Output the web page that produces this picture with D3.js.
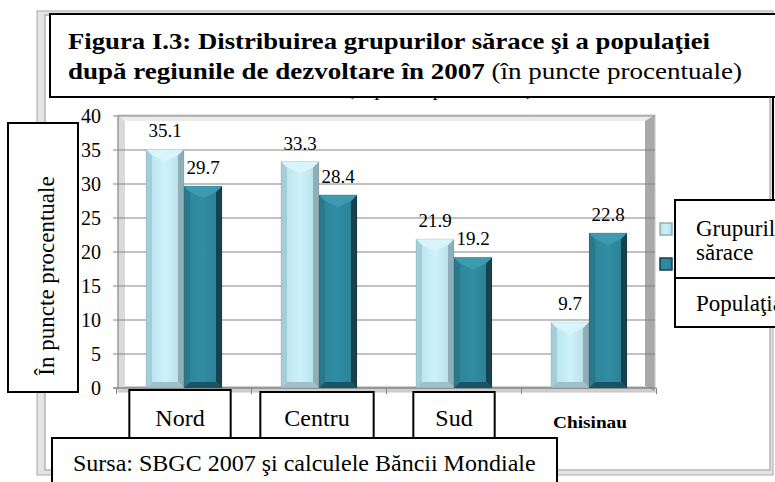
<!DOCTYPE html>
<html>
<head>
<meta charset="utf-8">
<script src="https://cdn.jsdelivr.net/npm/d3@7"></script>
<style>
  body { margin: 0; background: #fff; }
  svg { display: block; }
</style>
</head>
<body>
<div id="chart"></div>
<script>
const regions = ["Nord", "Centru", "Sud", "Chisinau"];
const series = ["Grupurile sărace", "Populaţia"];
const saraci = [35.1, 33.3, 21.9, 9.7];
const populatie = [29.7, 28.4, 19.2, 22.8];
const yTicks = [0, 5, 10, 15, 20, 25, 30, 35, 40];

const width = 775, height = 482;
const serif = "Liberation Serif";

const svg = d3.select("#chart")
  .append("svg")
  .attr("width", width)
  .attr("height", height)
  .attr("font-family", serif);

const defs = svg.append("defs");

// outer chart frame
svg.append("rect").attr("x", 37).attr("y", 11).attr("width", 736).attr("height", 464)
  .attr("fill", "#e4e4e4").attr("stroke", "#a8a8a8");
svg.append("rect").attr("x", 45).attr("y", 15).attr("width", 725).attr("height", 455)
  .attr("fill", "#fff").attr("stroke", "#b4b4b4").attr("stroke-width", 1.5);

const y = d3.scaleLinear().domain([0, 40]).range([388, 116]);
const x0 = d3.scaleBand().domain(regions).range([116.5, 656.5]);
const x1 = d3.scaleBand().domain(series).range([0, 76]);

// plot walls (3d frame)
const px0 = 118, px1 = 655, py0 = 115, py1 = 392;
const wallG = svg.append("g");
wallG.append("polygon")
  .attr("points", [[px0, py0], [px1, py0], [645, 121], [125, 121]].join(" "))
  .attr("fill", "#ececec");
wallG.append("polygon")
  .attr("points", [[px0, py0], [125, 121], [125, 386], [px0, py1]].join(" "))
  .attr("fill", "#dadada");
wallG.append("polygon")
  .attr("points", [[px1, py0], [645, 121], [645, 386], [px1, py1]].join(" "))
  .attr("fill", "#a9a9a9");
wallG.append("polygon")
  .attr("points", [[px0, py1], [px1, py1], [645, 386], [125, 386]].join(" "))
  .attr("fill", "#cfcfcf");
wallG.append("rect").attr("x", px0).attr("y", py0).attr("width", px1 - px0).attr("height", py1 - py0)
  .attr("fill", "none").attr("stroke", "#c4c4c4");

// gridlines + y axis
svg.append("g")
  .selectAll("line")
  .data(yTicks)
  .join("line")
  .attr("x1", 113).attr("x2", px1)
  .attr("y1", d => y(d)).attr("y2", d => y(d))
  .attr("stroke", "#858585").attr("stroke-width", 1);

svg.append("line").attr("x1", px0).attr("x2", px0).attr("y1", y(40)).attr("y2", y(0))
  .attr("stroke", "#858585");

svg.append("g")
  .selectAll("text")
  .data(yTicks)
  .join("text")
  .attr("x", 101)
  .attr("y", d => y(d) + 7)
  .attr("text-anchor", "end")
  .attr("font-family", serif)
  .attr("font-size", 20)
  .text(d => d);

// x axis line and ticks
svg.append("line").attr("x1", 113).attr("x2", x0.range()[1])
  .attr("y1", y(0)).attr("y2", y(0)).attr("stroke", "#858585");
svg.append("g")
  .selectAll("line")
  .data(regions.map(r => x0(r)).concat([x0.range()[1]]))
  .join("line")
  .attr("x1", d => d).attr("x2", d => d)
  .attr("y1", y(0)).attr("y2", y(0) + 6)
  .attr("stroke", "#858585");

// bar colour sets
const barStyles = {
  "Grupurile sărace": { grad: ["#b6e0eb", "#cdf2fa", "#b3dae5"], left: "#a3cdd9", right: "#8eaeb8", top: "#d9f5fb", bottom: "#9fbfc9" },
  "Populaţia": { grad: ["#2c8499", "#308da3", "#2a7d91"], left: "#2a788c", right: "#17414d", top: "#3d9bb0", bottom: "#1b5565" }
};

series.forEach((s, i) => {
  const g = defs.append("linearGradient").attr("id", "g" + i).attr("x1", "0").attr("x2", "1");
  barStyles[s].grad.forEach((c, j) => g.append("stop").attr("offset", j / 2).attr("stop-color", c));
});

const bars = [];
regions.forEach((r, i) => {
  bars.push({ region: r, series: series[0], value: saraci[i], idx: 0 });
  bars.push({ region: r, series: series[1], value: populatie[i], idx: 1 });
});

const b = 6;
svg.append("g")
  .selectAll("g")
  .data(bars)
  .join("g")
  .each(function (d) {
    const g = d3.select(this);
    const st = barStyles[d.series];
    const xa = x0(d.region) + x0.bandwidth() / 2 - 38 + x1(d.series);
    const xb = xa + x1.bandwidth();
    const ya = y(d.value), yb = y(0);
    const xm = (xa + xb) / 2;
    g.append("rect").attr("x", xa).attr("y", ya).attr("width", xb - xa).attr("height", yb - ya)
      .attr("fill", "url(#g" + d.idx + ")");
    g.append("polygon").attr("points", [[xa, ya], [xa + b, ya + b], [xa + b, yb - b], [xa, yb]].join(" "))
      .attr("fill", st.left);
    g.append("polygon").attr("points", [[xb, ya], [xb - b, ya + b], [xb - b, yb - b], [xb, yb]].join(" "))
      .attr("fill", st.right);
    g.append("polygon").attr("points", [[xa, ya], [xb, ya], [xb - b, ya + b], [xm, ya + 2 * b], [xa + b, ya + b]].join(" "))
      .attr("fill", st.top);
    g.append("polygon").attr("points", [[xa, yb], [xb, yb], [xb - b, yb - b], [xa + b, yb - b]].join(" "))
      .attr("fill", st.bottom);
    g.append("rect").attr("x", xa).attr("y", ya).attr("width", xb - xa).attr("height", yb - ya)
      .attr("fill", "none").attr("stroke", "rgba(0,0,0,0.12)").attr("stroke-width", 0.8);
  });

// value labels
svg.append("g")
  .selectAll("text")
  .data(bars)
  .join("text")
  .attr("x", d => x0(d.region) + x0.bandwidth() / 2 - 38 + x1(d.series) + x1.bandwidth() / 2)
  .attr("y", d => y(d.value) - 12)
  .attr("text-anchor", "middle")
  .attr("font-family", serif)
  .attr("font-size", 19)
  .text(d => d.value.toFixed(1));

// category labels in boxes
const catPad = 26;
regions.forEach((r, i) => {
  const cx = x0(r) + x0.bandwidth() / 2;
  if (r === "Chisinau") {
    svg.append("text").attr("x", cx + 1).attr("y", 428).attr("text-anchor", "middle")
      .attr("font-family", serif).attr("font-size", 17).attr("font-weight", "bold")
      .attr("textLength", 74).attr("lengthAdjust", "spacingAndGlyphs").text(r);
    return;
  }
  const t = svg.append("text").attr("x", cx - 4 + i * 2).attr("y", 426).attr("text-anchor", "middle")
    .attr("font-family", serif).attr("font-size", 24).text(r);
  const w = t.node().getComputedTextLength() + 2 * (catPad - i * 2);
  svg.insert("rect", () => t.node())
    .attr("x", cx - 4 + i * 2 - w / 2).attr("y", 390 + (i ? 2 : 0))
    .attr("width", w).attr("height", 48)
    .attr("fill", "#fff").attr("stroke", "#000").attr("stroke-width", 2);
});

// source box
svg.append("rect").attr("x", 52).attr("y", 438).attr("width", 505).attr("height", 50)
  .attr("fill", "#fff").attr("stroke", "#000").attr("stroke-width", 2);
svg.append("text").attr("x", 73).attr("y", 471)
  .attr("font-family", serif).attr("font-size", 24)
  .text("Sursa: SBGC 2007 şi calculele Băncii Mondiale");

// y title box
svg.append("rect").attr("x", 8).attr("y", 123).attr("width", 70).attr("height", 269)
  .attr("fill", "#fff").attr("stroke", "#000").attr("stroke-width", 2);
svg.append("text")
  .attr("transform", "translate(54,276) rotate(-90)")
  .attr("text-anchor", "middle")
  .attr("font-family", serif).attr("font-size", 23)
  .text("În puncte procentuale");

// right box edge
svg.append("path").attr("d", "M380,97 H773 V200").attr("fill", "none").attr("stroke", "#000").attr("stroke-width", 2);

// legend
const legendTop = [200, 278];
const legendH = [78, 49];
svg.append("g").selectAll("rect")
  .data(series)
  .join("rect")
  .attr("x", 675).attr("y", (d, i) => legendTop[i])
  .attr("width", 110).attr("height", (d, i) => legendH[i])
  .attr("fill", "#fff").attr("stroke", "#000").attr("stroke-width", 2);

svg.append("g").selectAll("rect")
  .data(series)
  .join("rect")
  .attr("x", 660).attr("y", (d, i) => 223 + i * 35)
  .attr("width", 12).attr("height", 12)
  .attr("fill", (d, i) => "url(#g" + i + ")")
  .attr("stroke", (d, i) => barStyles[d].right).attr("stroke-width", 1.5);

const legendText = svg.append("g").attr("font-family", serif).attr("font-size", 23);
legendText.append("text").attr("x", 696).attr("y", 236).text("Grupurile");
legendText.append("text").attr("x", 696).attr("y", 260).text("sărace");
legendText.append("text").attr("x", 696).attr("y", 311).text(series[1]);

// subtitle partly hidden under the title box
svg.append("text").attr("x", 440).attr("y", 95).attr("text-anchor", "middle")
  .attr("font-family", serif).attr("font-size", 20).text("(în puncte procentuale)");

// title box
svg.append("rect").attr("x", 50).attr("y", 14).attr("width", 740).attr("height", 83)
  .attr("fill", "#fff").attr("stroke", "#000").attr("stroke-width", 2);
svg.append("text").attr("x", 68).attr("y", 49)
  .attr("font-family", serif).attr("font-size", 23).attr("font-weight", "bold")
  .attr("textLength", 642).attr("lengthAdjust", "spacingAndGlyphs")
  .text("Figura I.3: Distribuirea grupurilor sărace şi a populaţiei");
const t2 = svg.append("text").attr("x", 68).attr("y", 79)
  .attr("font-family", serif).attr("font-size", 23)
  .attr("textLength", 674).attr("lengthAdjust", "spacingAndGlyphs");
t2.append("tspan").attr("font-weight", "bold").text("după regiunile de dezvoltare  în 2007");
t2.append("tspan").text(" (în puncte procentuale)");
</script>
</body>
</html>
